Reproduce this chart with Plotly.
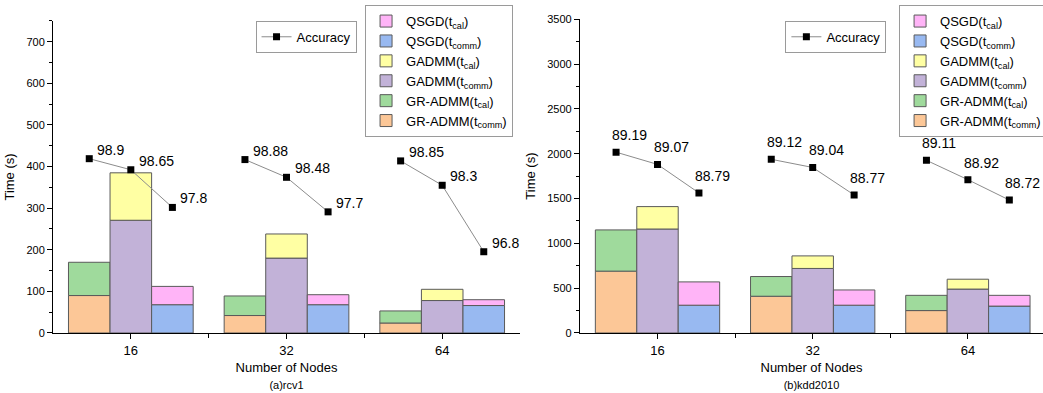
import plotly.graph_objects as go

# ---------------- data ----------------
nodes = ["16", "32", "64"]

# (a) rcv1  -- time in seconds
rcv1_gr_comm = [90, 42, 24]
rcv1_gr_cal = [80, 47, 29]
rcv1_gadmm_comm = [271, 180, 78]
rcv1_gadmm_cal = [114, 58, 27]
rcv1_qsgd_comm = [68, 68, 66]
rcv1_qsgd_cal = [44, 24, 14]
rcv1_acc_gr = [98.9, 98.88, 98.85]
rcv1_acc_gadmm = [98.65, 98.48, 98.3]
rcv1_acc_qsgd = [97.8, 97.7, 96.8]

# (b) kdd2010 -- time in seconds
kdd_gr_comm = [690, 410, 250]
kdd_gr_cal = [460, 220, 170]
kdd_gadmm_comm = [1160, 720, 490]
kdd_gadmm_cal = [250, 140, 110]
kdd_qsgd_comm = [310, 310, 300]
kdd_qsgd_cal = [260, 170, 120]
kdd_acc_gr = [89.19, 89.12, 89.11]
kdd_acc_gadmm = [89.07, 89.04, 88.92]
kdd_acc_qsgd = [88.79, 88.77, 88.72]

# ---------------- style ----------------
FONT = "Liberation Sans, Arial, sans-serif"
COL = {
    "qsgd_cal": "#ffb4f7",
    "qsgd_comm": "#98b9f1",
    "gadmm_cal": "#ffffa3",
    "gadmm_comm": "#c2b2d8",
    "gr_cal": "#9fda9c",
    "gr_comm": "#fcc797",
}
EDGE = "#5a5a5a"
BW = 0.267
OFFS = [-BW, 0.0, BW]  # GR-ADMM, GADMM, QSGD

fig = go.Figure()


def add_panel(xa, ya, yacc, legend_bars, legend_acc, comm_cal, accs):
    idx = list(range(len(nodes)))
    names = [
        ("GR-ADMM(t<sub>comm</sub>)", "GR-ADMM(t<sub>cal</sub>)", "gr"),
        ("GADMM(t<sub>comm</sub>)", "GADMM(t<sub>cal</sub>)", "gadmm"),
        ("QSGD(t<sub>comm</sub>)", "QSGD(t<sub>cal</sub>)", "qsgd"),
    ]
    for m, ((ncomm, ncal, key), (comm, cal), off) in enumerate(zip(names, comm_cal, OFFS)):
        xs = [i + off for i in idx]
        fig.add_trace(go.Bar(
            x=xs, y=comm, width=BW, name=ncomm, xaxis=xa, yaxis=ya,
            marker=dict(color=COL[key + "_comm"], line=dict(color=EDGE, width=1)),
            legend=legend_bars, legendrank=10 - 2 * m,
        ))
        fig.add_trace(go.Bar(
            x=xs, y=cal, base=comm, width=BW, name=ncal, xaxis=xa, yaxis=ya,
            marker=dict(color=COL[key + "_cal"], line=dict(color=EDGE, width=1)),
            legend=legend_bars, legendrank=9 - 2 * m,
        ))
    # accuracy line, one segment per node group
    lx, ly = [], []
    for i in idx:
        for off, acc in zip(OFFS, accs):
            lx.append(i + off)
            ly.append(acc[i])
        lx.append(None)
        ly.append(None)
    fig.add_trace(go.Scatter(
        x=lx, y=ly, mode="lines+markers", name="Accuracy", xaxis=xa, yaxis=yacc,
        line=dict(color="#8c8c8c", width=1),
        marker=dict(symbol="square", size=7, color="black"),
        legend=legend_acc, connectgaps=False,
    ))
    return lx, ly


lxa, lya = add_panel("x", "y", "y3", "legend", "legend2",
                     [(rcv1_gr_comm, rcv1_gr_cal), (rcv1_gadmm_comm, rcv1_gadmm_cal),
                      (rcv1_qsgd_comm, rcv1_qsgd_cal)],
                     [rcv1_acc_gr, rcv1_acc_gadmm, rcv1_acc_qsgd])
lxb, lyb = add_panel("x2", "y2", "y4", "legend3", "legend4",
                     [(kdd_gr_comm, kdd_gr_cal), (kdd_gadmm_comm, kdd_gadmm_cal),
                      (kdd_qsgd_comm, kdd_qsgd_cal)],
                     [kdd_acc_gr, kdd_acc_gadmm, kdd_acc_qsgd])

annotations = []
for x, y in zip(lxa, lya):
    if x is None:
        continue
    annotations.append(dict(x=x, y=y, xref="x", yref="y3", text=f"{y:g}", showarrow=False,
                            xanchor="left", yanchor="middle", xshift=6, yshift=9,
                            font=dict(size=14, color="black", family=FONT)))
for x, y in zip(lxb, lyb):
    if x is None:
        continue
    annotations.append(dict(x=x, y=y, xref="x2", yref="y4", text=f"{y:g}", showarrow=False,
                            xanchor="left", yanchor="middle", xshift=-6, yshift=17,
                            font=dict(size=14, color="black", family=FONT)))

xcommon = dict(
    tickvals=[0, 1, 2], ticktext=nodes, ticks="outside", ticklen=5, tickcolor="black",
    showline=True, linecolor="black", linewidth=1, showgrid=False, zeroline=False,
    minor=dict(tickvals=[0.5, 1.5], ticks="outside", ticklen=4, tickcolor="black"),
    tickfont=dict(size=13, family=FONT, color="black"), automargin=False,
)
ycommon = dict(
    ticks="outside", ticklen=5, tickcolor="black", showline=True, linecolor="black",
    linewidth=1, showgrid=False, zeroline=False, automargin=False,
    tickfont=dict(size=11, family=FONT, color="black"),
    title=dict(text="Time (s)", font=dict(size=13, family=FONT, color="black"), standoff=8),
)

legbox = dict(bgcolor="white", bordercolor="#9a9a9a", borderwidth=1,
              font=dict(size=13, family=FONT, color="black"),
              xanchor="left", yanchor="top", tracegroupgap=0)

fig.update_layout(
    width=1043, height=393,
    margin=dict(l=0, r=0, t=0, b=0, autoexpand=False),
    paper_bgcolor="white", plot_bgcolor="white",
    barmode="overlay",
    font=dict(family=FONT, color="black"),
    xaxis=dict(domain=[0.0508, 0.4986], range=[-0.5, 2.5], anchor="y",
               title=dict(text="Number of Nodes<br><span style='font-size:11px'>(a)rcv1</span>",
                          font=dict(size=13, family=FONT), standoff=6),
               **xcommon),
    yaxis=dict(domain=[0.1527, 0.9466], range=[0, 750], dtick=100, anchor="x",
               minor=dict(dtick=50, ticks="outside", ticklen=3, tickcolor="black"),
               **ycommon),
    yaxis3=dict(overlaying="y", anchor="x", range=[94.966, 102.008], visible=False),
    xaxis2=dict(domain=[0.556, 1.0], range=[-0.5, 2.484], anchor="y2",
                title=dict(text="Number of Nodes<br><span style='font-size:11px'>(b)kdd2010</span>",
                           font=dict(size=13, family=FONT), standoff=6),
                **xcommon),
    yaxis2=dict(domain=[0.1527, 0.951], range=[0, 3500], dtick=500, anchor="x2",
                minor=dict(dtick=250, ticks="outside", ticklen=3, tickcolor="black"),
                **ycommon),
    yaxis4=dict(overlaying="y2", anchor="x2", range=[87.416, 90.494], visible=False),
    legend=dict(x=0.35, y=0.987, **legbox),
    legend2=dict(x=0.245, y=0.947, **legbox),
    legend3=dict(x=0.862, y=0.987, **legbox),
    legend4=dict(x=0.753, y=0.947, **legbox),
    annotations=annotations,
)

fig.write_html("out.html",
               config={"displayModeBar": False},
               post_script="document.body.style.margin='0';document.body.style.overflow='hidden';")
